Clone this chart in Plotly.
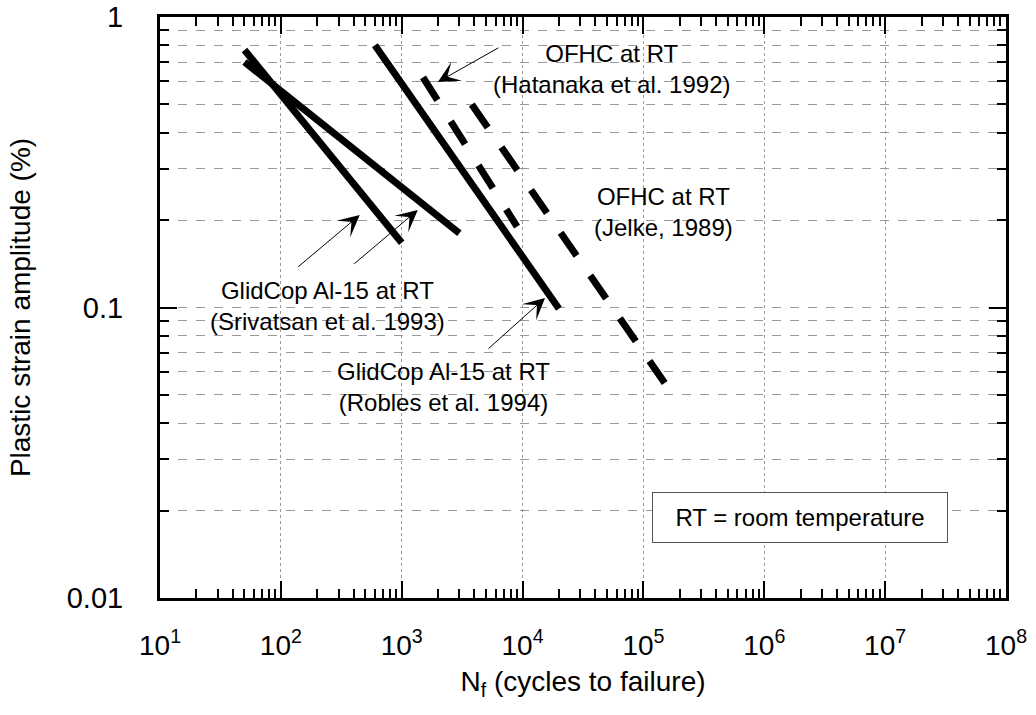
import numpy as np
import plotly.graph_objects as go

# ---- data ----
srivatsan_a_N = [50, 1000]
srivatsan_a_eps = [0.77, 0.167]
srivatsan_b_N = [50, 3000]
srivatsan_b_eps = [0.70, 0.18]
robles_N = [600, 20000]
robles_eps = [0.80, 0.099]
hatanaka_N = [1500, 9000]
hatanaka_eps = [0.62, 0.19]
jelke_N = [3800, 150000]
jelke_eps = [0.50, 0.055]

x_tickvals = [10 ** k for k in range(1, 9)]
x_ticktext = ["10<sup>%d</sup>" % k for k in range(1, 9)]
y_tickvals = [0.01, 0.1, 1]
y_ticktext = ["0.01", "0.1", "1"]

FONT = "Liberation Sans, Arial, Helvetica, sans-serif"

x_minor = [m * 10 ** k for k in range(1, 8) for m in range(2, 10)]
y_minor = [m * 10 ** k for k in range(-2, 0) for m in range(2, 10)]

fig = go.Figure()

def add_line(xs, ys, dash="solid"):
    fig.add_trace(go.Scatter(x=xs, y=ys, mode="lines",
                             line=dict(color="black", width=7, dash=dash),
                             showlegend=False, hoverinfo="skip"))

add_line(srivatsan_a_N, srivatsan_a_eps)
add_line(srivatsan_b_N, srivatsan_b_eps)
add_line(robles_N, robles_eps)
add_line(hatanaka_N, hatanaka_eps, dash="27px,25px")
add_line(jelke_N, jelke_eps, dash="28px,24px")

ann_font = dict(family=FONT, size=24, color="black")

def text(xv, yv, s):
    fig.add_annotation(x=np.log10(xv), y=np.log10(yv), text=s, showarrow=False,
                       font=ann_font, xanchor="center", yanchor="middle", align="center")

def arrow(xv, yv, ax, ay):
    fig.add_annotation(x=np.log10(xv), y=np.log10(yv), text="", showarrow=True,
                       ax=ax, ay=ay, arrowhead=3, arrowsize=3.6, arrowwidth=1,
                       arrowcolor="black", standoff=0)

text(5.4e4, 0.66, "OFHC at RT<br>(Hatanaka et al. 1992)")
text(1.46e5, 0.213, "OFHC at RT<br>(Jelke, 1989)")
text(244, 0.101, "GlidCop Al-15 at RT<br>(Srivatsan et al. 1993)")
text(2230, 0.0532, "GlidCop Al-15 at RT<br>(Robles et al. 1994)")

arrow(10 ** 3.299, 10 ** -0.2238, 62, -35)
arrow(10 ** 2.653, 10 ** -0.6816, -63, 53)
arrow(10 ** 3.133, 10 ** -0.6644, -65, 55)
arrow(10 ** 4.186, 10 ** -0.967, -58, 52)

fig.add_annotation(x=np.log10(6.3e5 * 3.15), y=np.log10(0.019), text="RT = room temperature",
                   showarrow=False, font=ann_font, bgcolor="white",
                   bordercolor="#555", borderwidth=1, width=292, height=47,
                   xanchor="center", yanchor="middle")

fig.update_layout(
    width=1036, height=715,
    margin=dict(l=160, r=30, t=17, b=117, autoexpand=False),
    plot_bgcolor="white", paper_bgcolor="white",
    font=dict(family=FONT, color="black"),
    xaxis=dict(type="log", range=[1, 8], automargin=False,
               tickvals=x_tickvals, ticktext=x_ticktext,
               tickfont=dict(size=28), ticks="inside", ticklen=17, tickwidth=2,
               tickcolor="black", ticklabelstandoff=20,
               showline=True, linecolor="black", linewidth=3, mirror="allticks",
               showgrid=True, gridcolor="#999", gridwidth=1, griddash="dot",
               zeroline=False,
               minor=dict(tickvals=x_minor, ticks="inside", ticklen=9, tickwidth=2,
                          tickcolor="black", showgrid=False),
               title=dict(text="N<sub>f</sub> (cycles to failure)", font=dict(size=28), standoff=12)),
    yaxis=dict(type="log", range=[-2, 0], automargin=False,
               tickvals=y_tickvals, ticktext=y_ticktext,
               tickfont=dict(size=29), ticks="inside", ticklen=17, tickwidth=2,
               tickcolor="black", ticklabelstandoff=28,
               showline=True, linecolor="black", linewidth=3, mirror="allticks",
               showgrid=True, gridcolor="#999", gridwidth=1, griddash="dash",
               zeroline=False,
               minor=dict(tickvals=y_minor, ticks="inside", ticklen=9, tickwidth=2,
                          tickcolor="black", showgrid=True, gridcolor="#999",
                          gridwidth=1, griddash="dash"),
               title=dict(text="Plastic strain amplitude (%)", font=dict(size=28), standoff=28)),
)

fig.write_html("out.html")
